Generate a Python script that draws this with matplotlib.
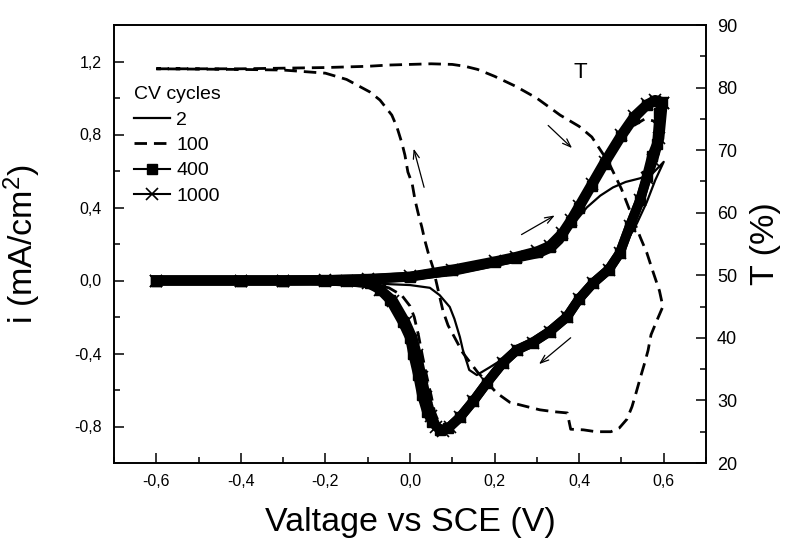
import matplotlib
matplotlib.use("Agg")
import matplotlib.pyplot as plt
from matplotlib.ticker import MultipleLocator, FuncFormatter

plt.rcParams['font.family'] = ['Liberation Sans', 'DejaVu Sans']
plt.rcParams['mathtext.default'] = 'regular'

# CV cycle 2 (solid line)
cv2_fwd_v = [-0.6, -0.4, -0.2, -0.1, 0.0, 0.1, 0.213, 0.307, 0.34, 0.36, 0.38, 0.418, 0.45, 0.48, 0.51, 0.544, 0.575, 0.6]
cv2_fwd_i = [0.0, 0.0, 0.0, 0.0, 0.005, 0.03, 0.085, 0.13, 0.165, 0.21, 0.29, 0.40, 0.465, 0.51, 0.54, 0.56, 0.59, 0.65]
cv2_rev_v = [0.6, 0.58, 0.56, 0.537, 0.5, 0.47, 0.433, 0.4, 0.37, 0.33, 0.29, 0.25, 0.213, 0.189, 0.158, 0.14,
             0.135, 0.125, 0.118, 0.105, 0.094, 0.07, 0.047, 0.0, -0.05, -0.1, -0.2, -0.4, -0.6]
cv2_rev_i = [0.65, 0.55, 0.43, 0.315, 0.16, 0.07, -0.01, -0.095, -0.19, -0.27, -0.33, -0.38, -0.44, -0.475, -0.518, -0.49,
             -0.452, -0.38, -0.31, -0.21, -0.145, -0.08, -0.04, -0.025, -0.02, -0.014, -0.005, 0.0, 0.0]

# CV cycle 100 (dashed)
cv100_fwd_v = [-0.6, -0.4, -0.2, 0.0, 0.1, 0.2, 0.3, 0.36, 0.4, 0.45, 0.5, 0.53, 0.555, 0.575, 0.592]
cv100_fwd_i = [0.0, 0.0, 0.003, 0.02, 0.055, 0.1, 0.155, 0.25, 0.4, 0.6, 0.77, 0.85, 0.885, 0.875, 0.84]
cv100_rev_v = [0.595, 0.588, 0.575, 0.56, 0.544, 0.52, 0.496, 0.433, 0.4, 0.371, 0.33, 0.29, 0.253, 0.22, 0.182, 0.15,
               0.118, 0.095, 0.08, 0.068, 0.058, 0.05, 0.04, 0.03, 0.02, 0.01, 0.0, -0.02, -0.05, -0.1, -0.2, -0.4, -0.6]
cv100_rev_i = [0.78, 0.7, 0.62, 0.54, 0.44, 0.3, 0.15, -0.014, -0.1, -0.2, -0.28, -0.34, -0.38, -0.45, -0.56, -0.66,
               -0.75, -0.8, -0.81, -0.78, -0.72, -0.63, -0.53, -0.42, -0.3, -0.2, -0.14, -0.08, -0.04, -0.015, -0.003, 0.0, 0.0]

# CV cycle 400 (squares)
cv400_fwd_v = [-0.6, -0.4, -0.3, -0.2, -0.1, 0.0, 0.1, 0.2, 0.25, 0.3, 0.33, 0.36, 0.38, 0.4, 0.43, 0.46, 0.5, 0.53, 0.56, 0.58, 0.595]
cv400_fwd_i = [0.0, 0.0, 0.0, 0.003, 0.008, 0.02, 0.055, 0.1, 0.125, 0.155, 0.185, 0.25, 0.32, 0.4, 0.52, 0.64, 0.79, 0.89, 0.96, 0.985, 0.98]
cv400_rev_v = [0.59, 0.584, 0.572, 0.56, 0.544, 0.52, 0.496, 0.47, 0.433, 0.4, 0.371, 0.33, 0.29, 0.253, 0.22, 0.182,
               0.15, 0.118, 0.09, 0.071, 0.052, 0.04, 0.028, 0.019, 0.007, 0.0, -0.017, -0.047, -0.071, -0.095,
               -0.15, -0.2, -0.3, -0.4, -0.6]
cv400_rev_i = [0.92, 0.75, 0.68, 0.57, 0.44, 0.3, 0.15, 0.06, -0.014, -0.1, -0.2, -0.28, -0.34, -0.38, -0.45, -0.56,
               -0.66, -0.75, -0.81, -0.82, -0.775, -0.72, -0.627, -0.52, -0.40, -0.315, -0.23, -0.107, -0.05, -0.014,
               -0.005, -0.002, 0.0, 0.0, 0.0]

# CV cycle 1000 (crosses)
cv1000_fwd_v = [-0.6, -0.4, -0.3, -0.2, -0.1, 0.0, 0.1, 0.2, 0.25, 0.3, 0.33, 0.36, 0.38, 0.4, 0.43, 0.46, 0.5, 0.53, 0.56, 0.58, 0.598]
cv1000_fwd_i = [0.0, 0.0, 0.0, 0.003, 0.009, 0.022, 0.06, 0.105, 0.13, 0.16, 0.19, 0.26, 0.33, 0.41, 0.53, 0.65, 0.8, 0.9, 0.965, 0.99, 0.97]
cv1000_rev_v = [0.598, 0.59, 0.575, 0.56, 0.544, 0.52, 0.496, 0.47, 0.433, 0.4, 0.371, 0.33, 0.29, 0.253, 0.22, 0.182,
                0.15, 0.118, 0.095, 0.078, 0.062, 0.05, 0.038, 0.028, 0.017, 0.007, -0.01, -0.04, -0.07, -0.1,
                -0.15, -0.2, -0.3, -0.4, -0.6]
cv1000_rev_i = [0.97, 0.78, 0.66, 0.56, 0.44, 0.3, 0.15, 0.06, -0.014, -0.1, -0.2, -0.28, -0.34, -0.38, -0.45, -0.56,
                -0.66, -0.75, -0.8, -0.825, -0.8, -0.74, -0.64, -0.53, -0.41, -0.32, -0.23, -0.11, -0.05, -0.015,
                -0.005, -0.002, 0.0, 0.0, 0.0]

# transmittance T (%) on right axis
t_fwd_v = [-0.6, -0.5, -0.4, -0.3, -0.2, -0.1, -0.05, 0.0, 0.05, 0.1, 0.13, 0.16, 0.2, 0.25, 0.3, 0.355, 0.4, 0.43,
           0.47, 0.5, 0.545, 0.56, 0.575, 0.59, 0.598]
t_fwd = [83.0, 83.0, 83.0, 83.1, 83.2, 83.4, 83.6, 83.7, 83.8, 83.7, 83.4, 82.9, 81.8, 80.2, 78.3, 75.6, 73.8, 72.1,
         68.0, 63.8, 56.0, 53.6, 50.5, 47.5, 45.0]
t_rev_v = [0.598, 0.584, 0.57, 0.563, 0.555, 0.545, 0.535, 0.525, 0.513, 0.495, 0.475, 0.44, 0.41, 0.38, 0.372, 0.34,
           0.307, 0.277, 0.236, 0.205, 0.16, 0.125, 0.106, 0.09, 0.078, 0.054, 0.043, 0.035, 0.028, 0.019, 0.012,
           0.005, -0.005, -0.012, -0.019, -0.031, -0.043, -0.071, -0.095, -0.15, -0.2, -0.3, -0.4, -0.6]
t_rev = [45.0, 42.8, 40.5, 38.0, 36.0, 33.7, 31.3, 29.0, 27.0, 25.6, 25.0, 25.0, 25.3, 25.4, 28.0, 28.2,
         28.5, 29.0, 29.7, 31.2, 34.5, 37.6, 40.0, 42.0, 44.3, 51.3, 53.6, 55.6, 57.7, 60.0, 62.0,
         64.7, 66.5, 69.2, 71.1, 73.7, 75.6, 78.0, 79.3, 81.3, 82.3, 82.8, 82.9, 83.0]

# sweep direction arrows: (tail, head) in left-axis data units
arrows = [((0.322, 0.86), (0.388, 0.715)),
          ((0.035, 0.496), (0.007, 0.737)),
          ((0.258, 0.244), (0.348, 0.364)),
          ((0.385, -0.304), (0.300, -0.468))]

fig = plt.figure(figsize=(7.87, 5.43), dpi=100)
ax = fig.add_axes([114 / 787, 80 / 543, 592 / 787, 438 / 543])
ax2 = ax.twinx()

dash = (4.5, 2.5)

# dense markers in the original merge into a thick band
ax.plot(cv400_fwd_v + cv400_rev_v, cv400_fwd_i + cv400_rev_i, '-', color='k', lw=7,
        solid_joinstyle='round', label='_nolegend_')
ax.plot(cv1000_fwd_v + cv1000_rev_v, cv1000_fwd_i + cv1000_rev_i, '-', color='k', lw=7,
        solid_joinstyle='round', label='_nolegend_')

ax.plot(cv2_fwd_v + cv2_rev_v, cv2_fwd_i + cv2_rev_i, '-', color='k', lw=1.6, label='2')
ax.plot(cv100_fwd_v + cv100_rev_v, cv100_fwd_i + cv100_rev_i, '--', color='k', lw=2.0,
        dashes=dash, label='100')
ax.plot(cv400_fwd_v + cv400_rev_v, cv400_fwd_i + cv400_rev_i, '-s', color='k', lw=1.5,
        ms=6.5, label='400')
ax.plot(cv1000_fwd_v + cv1000_rev_v, cv1000_fwd_i + cv1000_rev_i, '-x', color='k', lw=1.5,
        ms=8, mew=1.2, label='1000')

ax2.plot(t_fwd_v + t_rev_v, t_fwd + t_rev, '--', color='k', lw=2.0, dashes=dash)

for tail, head in arrows:
    ax.annotate('', xy=head, xytext=tail,
                arrowprops=dict(arrowstyle='->,head_length=0.6,head_width=0.22', lw=0.9, color='k'))

ax.text(0.402, 1.14, 'T', fontsize=16, ha='center', va='center')

ax.set_xlim(-0.7, 0.7)
ax.set_ylim(-1.0, 1.4)
ax2.set_ylim(20, 90)

ax.xaxis.set_major_locator(MultipleLocator(0.2))
ax.xaxis.set_minor_locator(MultipleLocator(0.1))
ax.yaxis.set_major_locator(MultipleLocator(0.4))
ax.yaxis.set_minor_locator(MultipleLocator(0.2))
ax2.yaxis.set_major_locator(MultipleLocator(10))
ax2.yaxis.set_minor_locator(MultipleLocator(5))


def comma_fmt(v, pos):
    if abs(v) < 1e-9:
        v = 0.0
    return f"{v:.1f}".replace('.', ',')


ax.xaxis.set_major_formatter(FuncFormatter(comma_fmt))
ax.yaxis.set_major_formatter(FuncFormatter(comma_fmt))
ax.set_yticks([-0.8, -0.4, 0.0, 0.4, 0.8, 1.2])

ax.tick_params(which='both', direction='in', top=False, right=False, width=1.1)
ax.tick_params(which='major', length=7, labelsize=11.5)
ax.tick_params(axis='x', which='major', pad=8)
ax.tick_params(axis='y', which='major', pad=9)
ax.tick_params(which='minor', length=4)
ax2.tick_params(which='both', direction='in', width=1.1)
ax2.tick_params(which='major', length=7, labelsize=13, pad=8)
ax2.tick_params(which='minor', length=4)

for a in (ax, ax2):
    for s in a.spines.values():
        s.set_linewidth(1.2)

ax.set_xlabel('Valtage vs SCE (V)', fontsize=24.5)
ax.xaxis.set_label_coords(0.5, -0.1)
ax.set_ylabel('i (mA/cm$^2$)', fontsize=24.5)
ax.yaxis.set_label_coords(-0.12, 0.5)
ax2.set_ylabel('T (%)', fontsize=24.5)
ax2.yaxis.set_label_coords(1.075, 0.5)

leg = ax.legend(loc='upper left', bbox_to_anchor=(0.033, 0.86), frameon=False, fontsize=14,
                title='CV cycles', title_fontsize=14, alignment='left',
                handlelength=1.9, handletextpad=0.3, labelspacing=0.4, borderpad=0,
                borderaxespad=0)

fig.savefig('out.png', dpi=100)
